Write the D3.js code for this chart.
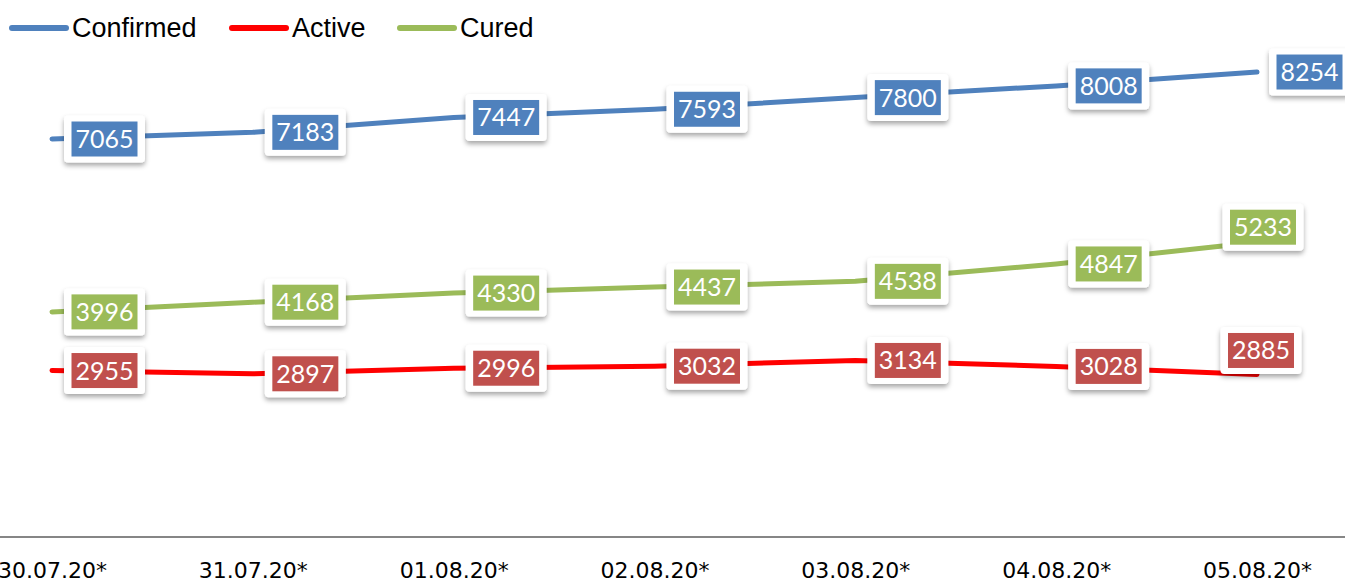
<!DOCTYPE html>
<html>
<head>
<meta charset="utf-8">
<script src="https://cdn.jsdelivr.net/npm/d3@7"></script>
<style>
  html, body { margin: 0; padding: 0; background: #fff; overflow: hidden; }
  svg { display: block; }
</style>
</head>
<body>
<svg id="chart"></svg>
<script>
const dates = ['30.07.20*', '31.07.20*', '01.08.20*', '02.08.20*', '03.08.20*', '04.08.20*', '05.08.20*'];
const confirmed = [7065, 7183, 7447, 7593, 7800, 8008, 8254];
const active = [2955, 2897, 2996, 3032, 3134, 3028, 2885];
const cured = [3996, 4168, 4330, 4437, 4538, 4847, 5233];

const seriesNames = ['Confirmed', 'Active', 'Cured'];

// styles kept apart from the values
const style = {
    Confirmed: { line: '#4f81bd', box: '#4f81bd', lastDx: 12, lastDy: 0, lastAnchorRight: true },
    Active: { line: '#ff0000', box: '#c0504d', lastDx: 4, lastDy: -24, lastAnchorRight: false },
    Cured: { line: '#9bbb59', box: '#9bbb59', lastDx: 6, lastDy: -15, lastAnchorRight: false }
};

const svgWidth = 1345, svgHeight = 582;

let svg = d3.select('#chart')
    .attr('width', svgWidth)
    .attr('height', svgHeight);

let defs = svg.append('defs');
defs.append('filter')
    .attr('id', 'shadow')
    .attr('x', '-20%').attr('y', '-20%')
    .attr('width', '140%').attr('height', '160%')
    .append('feDropShadow')
    .attr('dx', 0).attr('dy', 3)
    .attr('stdDeviation', 2.5)
    .attr('flood-color', '#000')
    .attr('flood-opacity', 0.35);

let x = d3.scalePoint()
    .domain(dates)
    .range([52, 1257]);

let y = d3.scaleLinear()
    .domain([0, 9000])
    .range([537, 30]);

// x axis
let xAxis = svg.append('g')
    .attr('transform', 'translate(0,537)')
    .call(d3.axisBottom(x).tickSize(0).tickPadding(25));
xAxis.select('.domain').remove();
xAxis.selectAll('text')
    .attr('font-family', 'DejaVu Sans, Verdana, sans-serif')
    .attr('font-size', 22)
    .attr('fill', '#000');

svg.append('line')
    .attr('x1', 0).attr('x2', svgWidth)
    .attr('y1', 537).attr('y2', 537)
    .attr('stroke', '#868686')
    .attr('stroke-width', 2);

let data = {
    Confirmed: confirmed,
    Active: active,
    Cured: cured
};

let line = d3.line()
    .x(function (d, i) { return x(dates[i]); })
    .y(function (d) { return y(d); });

seriesNames.forEach(function (name) {
    svg.append('path')
        .datum(data[name])
        .attr('fill', 'none')
        .attr('stroke', style[name].line)
        .attr('stroke-width', 5)
        .attr('stroke-linejoin', 'round')
        .attr('stroke-linecap', 'round')
        .attr('d', line);
});

// data labels
const boxW = 81, boxH = 47, innerW = 66, innerH = 35;

seriesNames.forEach(function (name) {
    let vals = data[name];
    let g = svg.append('g');
    vals.forEach(function (v, i) {
        let px = x(dates[i]), py = y(v);
        let cx, cy;
        if (i === vals.length - 1 && !style[name].lastAnchorRight) {
            cx = px + style[name].lastDx;
            cy = py + style[name].lastDy;
        } else {
            cx = px + 12 + boxW / 2;
            cy = py;
        }
        let lab = g.append('g').attr('transform', 'translate(' + cx + ',' + cy + ')');
        lab.append('rect')
            .attr('x', -boxW / 2).attr('y', -boxH / 2)
            .attr('width', boxW).attr('height', boxH)
            .attr('rx', 4)
            .attr('fill', '#fff')
            .attr('filter', 'url(#shadow)');
        lab.append('rect')
            .attr('x', -innerW / 2).attr('y', -innerH / 2)
            .attr('width', innerW).attr('height', innerH)
            .attr('fill', style[name].box);
        lab.append('text')
            .attr('text-anchor', 'middle')
            .attr('dy', '0.36em')
            .attr('font-family', 'Lato, sans-serif')
            .attr('font-size', 25)
            .attr('fill', '#fff')
            .text(v);
    });
});

// legend
const legendX = [12, 232, 400];
let legend = svg.append('g');
seriesNames.forEach(function (name, i) {
    let lg = legend.append('g').attr('transform', 'translate(' + legendX[i] + ',28)');
    lg.append('line')
        .attr('x1', 0).attr('x2', 54)
        .attr('stroke', style[name].line)
        .attr('stroke-width', 6)
        .attr('stroke-linecap', 'round');
    lg.append('text')
        .attr('x', 60)
        .attr('dy', '0.35em')
        .attr('font-family', 'Liberation Sans Narrow, Arial Narrow, sans-serif')
        .attr('font-size', 27)
        .attr('fill', '#000')
        .text(name);
});
</script>
</body>
</html>
